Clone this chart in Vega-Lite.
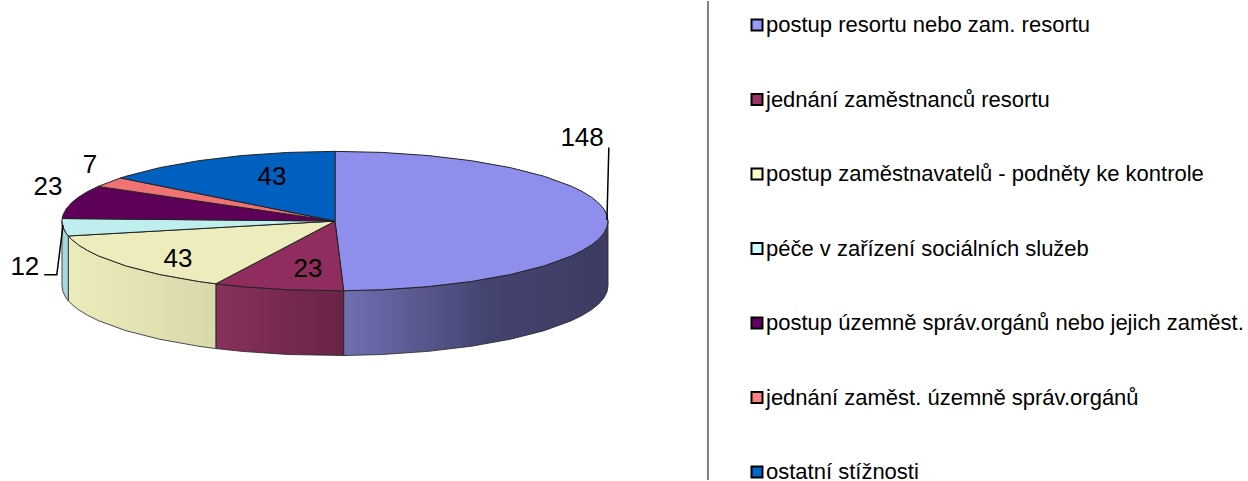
{"$schema":"https://vega.github.io/schema/vega-lite/v6.json","width":1248,"height":481,"autosize":{"type":"fit","contains":"padding"},"padding":0,"background":"white","config":{"view":{"stroke":null},"font":"Liberation Sans"},
"datasets":{
"slices":[
{"slice":"postup resortu nebo zam. resortu","value":148,"lx":0.905,"ly":1.186},
{"slice":"jednání zaměstnanců resortu","value":23,"lx":-0.099,"ly":-0.686},
{"slice":"postup zaměstnavatelů - podněty ke kontrole","value":43,"lx":-0.575,"ly":-0.543},
{"slice":"péče v zařízení sociálních služeb","value":12,"lx":-1.136,"ly":-0.657},
{"slice":"postup územně správ.orgánů nebo jejich zaměst.","value":23,"lx":-1.051,"ly":0.486},
{"slice":"jednání zaměst. územně správ.orgánů","value":7,"lx":-0.897,"ly":0.8},
{"slice":"ostatní stížnosti","value":43,"lx":-0.231,"ly":0.629}],
"tops":[
{"k":1,"x":0,"y":0},{"k":1,"x":0,"y":1},{"k":1,"x":0.1736,"y":0.9848},{"k":1,"x":0.342,"y":0.9397},{"k":1,"x":0.5,"y":0.866},{"k":1,"x":0.6428,"y":0.766},{"k":1,"x":0.766,"y":0.6428},{"k":1,"x":0.866,"y":0.5},{"k":1,"x":0.9063,"y":0.4226},{"k":1,"x":0.9397,"y":0.342},{"k":1,"x":0.9659,"y":0.2588},{"k":1,"x":0.9848,"y":0.1736},{"k":1,"x":0.9962,"y":0.0872},{"k":1,"x":1,"y":0},{"k":1,"x":0.9962,"y":-0.0872},{"k":1,"x":0.9848,"y":-0.1736},{"k":1,"x":0.9659,"y":-0.2588},{"k":1,"x":0.9397,"y":-0.342},{"k":1,"x":0.9063,"y":-0.4226},{"k":1,"x":0.866,"y":-0.5},{"k":1,"x":0.766,"y":-0.6428},{"k":1,"x":0.6428,"y":-0.766},{"k":1,"x":0.5,"y":-0.866},{"k":1,"x":0.342,"y":-0.9397},{"k":1,"x":0.1736,"y":-0.9848},{"k":1,"x":0.0316,"y":-0.9995},{"k":1,"x":0,"y":0},
{"k":2,"x":0,"y":0},{"k":2,"x":0.0316,"y":-0.9995},{"k":2,"x":-0.1736,"y":-0.9848},{"k":2,"x":-0.342,"y":-0.9397},{"k":2,"x":-0.4365,"y":-0.8997},{"k":2,"x":0,"y":0},
{"k":3,"x":0,"y":0},{"k":3,"x":-0.4365,"y":-0.8997},{"k":3,"x":-0.5,"y":-0.866},{"k":3,"x":-0.6428,"y":-0.766},{"k":3,"x":-0.766,"y":-0.6428},{"k":3,"x":-0.866,"y":-0.5},{"k":3,"x":-0.9063,"y":-0.4226},{"k":3,"x":-0.9397,"y":-0.342},{"k":3,"x":-0.9659,"y":-0.2588},{"k":3,"x":-0.9769,"y":-0.2137},{"k":3,"x":0,"y":0},
{"k":4,"x":0,"y":0},{"k":4,"x":-0.9769,"y":-0.2137},{"k":4,"x":-0.9848,"y":-0.1736},{"k":4,"x":-0.9962,"y":-0.0872},{"k":4,"x":-1,"y":0},{"k":4,"x":-0.9993,"y":0.0368},{"k":4,"x":0,"y":0},
{"k":5,"x":0,"y":0},{"k":5,"x":-0.9993,"y":0.0368},{"k":5,"x":-0.9962,"y":0.0872},{"k":5,"x":-0.9848,"y":0.1736},{"k":5,"x":-0.9659,"y":0.2588},{"k":5,"x":-0.9397,"y":0.342},{"k":5,"x":-0.9063,"y":0.4226},{"k":5,"x":-0.8678,"y":0.497},{"k":5,"x":0,"y":0},
{"k":6,"x":0,"y":0},{"k":6,"x":-0.8678,"y":0.497},{"k":6,"x":-0.7857,"y":0.6186},{"k":6,"x":0,"y":0},
{"k":7,"x":0,"y":0},{"k":7,"x":-0.7857,"y":0.6186},{"k":7,"x":-0.766,"y":0.6428},{"k":7,"x":-0.6428,"y":0.766},{"k":7,"x":-0.5,"y":0.866},{"k":7,"x":-0.342,"y":0.9397},{"k":7,"x":-0.1736,"y":0.9848},{"k":7,"x":0,"y":1},{"k":7,"x":0,"y":0}],
"walls":[
{"k":1,"x":1,"y":0},{"k":1,"x":0.9962,"y":-0.0872},{"k":1,"x":0.9848,"y":-0.1736},{"k":1,"x":0.9659,"y":-0.2588},{"k":1,"x":0.9397,"y":-0.342},{"k":1,"x":0.9063,"y":-0.4226},{"k":1,"x":0.866,"y":-0.5},{"k":1,"x":0.766,"y":-0.6428},{"k":1,"x":0.6428,"y":-0.766},{"k":1,"x":0.5,"y":-0.866},{"k":1,"x":0.342,"y":-0.9397},{"k":1,"x":0.1736,"y":-0.9848},{"k":1,"x":0.0316,"y":-0.9995},{"k":1,"x":0.0316,"y":-1.9285},{"k":1,"x":0.1736,"y":-1.9138},{"k":1,"x":0.342,"y":-1.8687},{"k":1,"x":0.5,"y":-1.795},{"k":1,"x":0.6428,"y":-1.695},{"k":1,"x":0.766,"y":-1.5718},{"k":1,"x":0.866,"y":-1.429},{"k":1,"x":0.9063,"y":-1.3516},{"k":1,"x":0.9397,"y":-1.271},{"k":1,"x":0.9659,"y":-1.1878},{"k":1,"x":0.9848,"y":-1.1026},{"k":1,"x":0.9962,"y":-1.0162},{"k":1,"x":1,"y":-0.929},{"k":1,"x":1,"y":0},
{"k":2,"x":0.0316,"y":-0.9995},{"k":2,"x":-0.1736,"y":-0.9848},{"k":2,"x":-0.342,"y":-0.9397},{"k":2,"x":-0.4365,"y":-0.8997},{"k":2,"x":-0.4365,"y":-1.8287},{"k":2,"x":-0.342,"y":-1.8687},{"k":2,"x":-0.1736,"y":-1.9138},{"k":2,"x":0.0316,"y":-1.9285},{"k":2,"x":0.0316,"y":-0.9995},
{"k":3,"x":-0.4365,"y":-0.8997},{"k":3,"x":-0.5,"y":-0.866},{"k":3,"x":-0.6428,"y":-0.766},{"k":3,"x":-0.766,"y":-0.6428},{"k":3,"x":-0.866,"y":-0.5},{"k":3,"x":-0.9063,"y":-0.4226},{"k":3,"x":-0.9397,"y":-0.342},{"k":3,"x":-0.9659,"y":-0.2588},{"k":3,"x":-0.9769,"y":-0.2137},{"k":3,"x":-0.9769,"y":-1.1427},{"k":3,"x":-0.9659,"y":-1.1878},{"k":3,"x":-0.9397,"y":-1.271},{"k":3,"x":-0.9063,"y":-1.3516},{"k":3,"x":-0.866,"y":-1.429},{"k":3,"x":-0.766,"y":-1.5718},{"k":3,"x":-0.6428,"y":-1.695},{"k":3,"x":-0.5,"y":-1.795},{"k":3,"x":-0.4365,"y":-1.8287},{"k":3,"x":-0.4365,"y":-0.8997},
{"k":4,"x":-0.9769,"y":-0.2137},{"k":4,"x":-0.9848,"y":-0.1736},{"k":4,"x":-0.9962,"y":-0.0872},{"k":4,"x":-1,"y":0},{"k":4,"x":-1,"y":-0.929},{"k":4,"x":-0.9962,"y":-1.0162},{"k":4,"x":-0.9848,"y":-1.1026},{"k":4,"x":-0.9769,"y":-1.1427},{"k":4,"x":-0.9769,"y":-0.2137}],
"leaders":[
{"k":1,"x":0.996,"y":0.014},{"k":1,"x":1.003,"y":1.057},
{"k":2,"x":-0.996,"y":-0.057},{"k":2,"x":-1.019,"y":-0.771},{"k":2,"x":-1.065,"y":-0.771}],
"divider":[{"x":1.366}]
},
"encoding":{
"x":{"field":"x","type":"quantitative","axis":null,"scale":{"domain":[-1.227,3.344],"zero":false,"nice":false}},
"y":{"field":"y","type":"quantitative","axis":null,"scale":{"domain":[-3.714,3.157],"zero":false,"nice":false}}
},
"layer":[
{"data":{"name":"walls"},"transform":[{"filter":"datum.k==1"}],"mark":{"type":"line","strokeWidth":0.8,"stroke":"#222","fill":{"gradient":"linear","x1":0,"y1":0,"x2":1,"y2":0,"stops":[{"offset":0,"color":"#7070b2"},{"offset":0.55,"color":"#43436f"},{"offset":1,"color":"#3c3c62"}]}},"encoding":{"order":{"value":null}}},
{"data":{"name":"walls"},"transform":[{"filter":"datum.k==2"}],"mark":{"type":"line","strokeWidth":0.8,"stroke":"#222","fill":{"gradient":"linear","x1":0,"y1":0,"x2":1,"y2":0,"stops":[{"offset":0,"color":"#87305c"},{"offset":1,"color":"#6a2347"}]}},"encoding":{"order":{"value":null}}},
{"data":{"name":"walls"},"transform":[{"filter":"datum.k==3"}],"mark":{"type":"line","strokeWidth":0.8,"stroke":"#222","fill":{"gradient":"linear","x1":0,"y1":0,"x2":1,"y2":0,"stops":[{"offset":0,"color":"#ecebbb"},{"offset":1,"color":"#d9d8ab"}]}},"encoding":{"order":{"value":null}}},
{"data":{"name":"walls"},"transform":[{"filter":"datum.k==4"}],"mark":{"type":"line","strokeWidth":0.8,"stroke":"#222","fill":"#a5d9dc"},"encoding":{"order":{"value":null}}},
{"data":{"name":"tops"},"mark":{"type":"line","strokeWidth":1,"stroke":"#222"},"encoding":{"order":{"value":null},"fill":{"field":"k","type":"nominal","legend":null,"scale":{"domain":[1,2,3,4,5,6,7],"range":["#8e8eec","#8f2e5e","#edecbc","#beeeee","#5e0058","#ef7373","#0060c0"]}}}},
{"data":{"name":"leaders"},"mark":{"type":"line","stroke":"#000","strokeWidth":1.5},"encoding":{"order":{"value":null},"detail":{"field":"k"}}},
{"data":{"name":"slices"},"mark":{"type":"text","fontSize":26,"font":"Liberation Sans","color":"#000","baseline":"middle","align":"center"},"encoding":{"x":{"field":"lx","type":"quantitative"},"y":{"field":"ly","type":"quantitative"},"text":{"field":"value","type":"quantitative"}}},
{"data":{"name":"slices"},"mark":{"type":"point","filled":true,"size":0},"encoding":{"x":{"field":"lx","type":"quantitative"},"y":{"field":"ly","type":"quantitative"},"color":{"field":"slice","type":"nominal","sort":null,"scale":{"domain":["postup resortu nebo zam. resortu","jednání zaměstnanců resortu","postup zaměstnavatelů - podněty ke kontrole","péče v zařízení sociálních služeb","postup územně správ.orgánů nebo jejich zaměst.","jednání zaměst. územně správ.orgánů","ostatní stížnosti"],"range":["#9999ff","#993366","#ffffcc","#ccffff","#660066","#ff8080","#0066cc"]},"legend":{"title":null,"orient":"none","legendX":746,"legendY":13,"symbolType":"square","symbolSize":121,"symbolStrokeColor":"#000","symbolStrokeWidth":2,"symbolOpacity":1,"labelFont":"Liberation Sans","labelFontSize":22,"labelColor":"#000","labelLimit":600,"rowPadding":52.5,"labelOffset":-2,"padding":0,"encode":{"symbols":{"update":{"stroke":{"value":"#000"},"strokeWidth":{"value":2}}}}}}}},
{"data":{"name":"divider"},"mark":{"type":"rule","stroke":"#808080","strokeWidth":2},"encoding":{"x":{"field":"x","type":"quantitative"},"y":null}}
]}
